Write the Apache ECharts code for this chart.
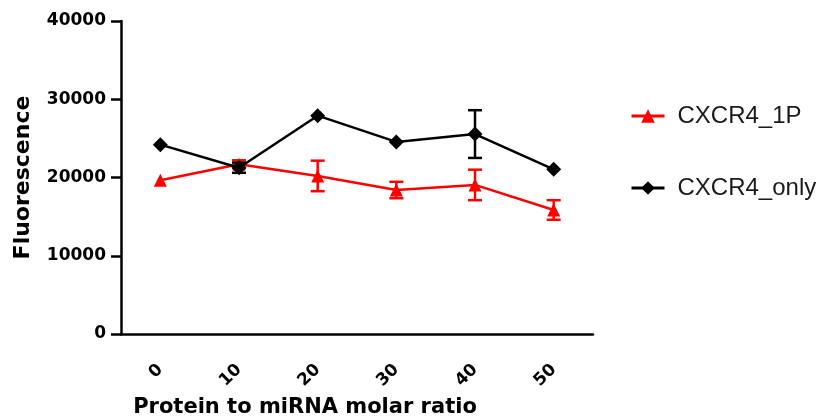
<!DOCTYPE html>
<html>
<head>
    <meta charset="utf-8">
    <script src="https://cdnjs.cloudflare.com/ajax/libs/echarts/6.0.0/echarts.min.js"></script>
</head>
<body style="margin:0;background:#fff;">
<div id="chart" style="width: 825px; height: 418px;"></div>
<script type="text/javascript">
    // Data
    var ratios = ['0', '10', '20', '30', '40', '50'];
    var yTicks = [0, 10000, 20000, 30000, 40000];

    var cxcr4_1P = [19650, 21700, 20200, 18400, 19050, 15850];
    var cxcr4_1P_err = [0, 500, 1950, 1050, 1950, 1250];

    var cxcr4_only = [24200, 21250, 27900, 24550, 25550, 21050];
    var cxcr4_only_err = [0, 650, 0, 0, 3050, 0];

    function errData(vals, errs) {
        var out = [];
        vals.forEach(function (v, i) {
            if (errs[i] > 0) out.push([i, v - errs[i], v + errs[i]]);
        });
        return out;
    }

    function errRenderer(color) {
        return function (params, api) {
            var top = api.coord([api.value(0), api.value(2)]);
            var bot = api.coord([api.value(0), api.value(1)]);
            var hw = 7;
            var style = { stroke: color, lineWidth: 2.5 };
            return {
                type: 'group',
                children: [
                    { type: 'line', shape: { x1: top[0], y1: top[1], x2: bot[0], y2: bot[1] }, style: style },
                    { type: 'line', shape: { x1: top[0] - hw, y1: top[1], x2: top[0] + hw, y2: top[1] }, style: style },
                    { type: 'line', shape: { x1: bot[0] - hw, y1: bot[1], x2: bot[0] + hw, y2: bot[1] }, style: style }
                ]
            };
        };
    }

    var boldFont = 'DejaVu Sans';
    var chart = echarts.init(document.getElementById('chart'));
    var option = {
        animation: false,
        backgroundColor: '#fff',
        grid: { left: 121, right: 232, top: 21, bottom: 84, containLabel: false, outerBoundsMode: 'none' },
        legend: {
            orient: 'vertical',
            left: 625,
            top: 99,
            itemWidth: 33,
            itemHeight: 17,
            itemGap: 48,
            data: ['CXCR4_1P', 'CXCR4_only'],
            lineStyle: { width: 3 },
            textStyle: { fontFamily: 'Liberation Sans', fontSize: 24, color: '#1a1a1a', padding: [0, 0, 0, 8] }
        },
        xAxis: {
            type: 'category',
            data: ratios,
            boundaryGap: true,
            name: 'Protein to miRNA molar ratio',
            nameLocation: 'middle',
            nameGap: 63,
            nameTextStyle: { fontFamily: boldFont, fontWeight: 'bold', fontSize: 21, color: '#000', padding: [0, 104, 0, 0] },
            axisLine: { lineStyle: { color: '#000', width: 2.5 } },
            axisTick: { alignWithLabel: true, length: 10, lineStyle: { color: '#000', width: 2.5 } },
            axisLabel: { rotate: 45, margin: 33, fontFamily: boldFont, fontWeight: 'bold', fontSize: 17, color: '#000' },
            splitLine: { show: false }
        },
        yAxis: {
            type: 'value',
            min: yTicks[0],
            max: yTicks[yTicks.length - 1],
            interval: 10000,
            name: 'Fluorescence',
            nameLocation: 'middle',
            nameGap: 87,
            nameTextStyle: { fontFamily: boldFont, fontWeight: 'bold', fontSize: 22, color: '#000' },
            axisLine: { show: true, lineStyle: { color: '#000', width: 2.5 } },
            axisTick: { show: true, length: 10, lineStyle: { color: '#000', width: 2.5 } },
            axisLabel: {
                margin: 15, fontFamily: boldFont, fontWeight: 'bold', fontSize: 17, color: '#000',
                formatter: function (v) { return String(v); }
            },
            splitLine: { show: false }
        },
        series: [
            {
                name: 'CXCR4_1P',
                type: 'line',
                data: cxcr4_1P,
                symbol: 'triangle',
                symbolSize: 13,
                color: '#ff0000',
                lineStyle: { color: '#ff0000', width: 2.5 },
                itemStyle: { color: '#ff0000' },
                z: 3
            },
            {
                name: 'CXCR4_1P_err',
                type: 'custom',
                data: errData(cxcr4_1P, cxcr4_1P_err),
                renderItem: errRenderer('#ff0000'),
                z: 3
            },
            {
                name: 'CXCR4_only',
                type: 'line',
                data: cxcr4_only,
                symbol: 'diamond',
                symbolSize: 15,
                color: '#000',
                lineStyle: { color: '#000', width: 2.5 },
                itemStyle: { color: '#000' },
                z: 4
            },
            {
                name: 'CXCR4_only_err',
                type: 'custom',
                data: errData(cxcr4_only, cxcr4_only_err),
                renderItem: errRenderer('#000'),
                z: 4
            }
        ]
    };
    chart.setOption(option);
</script>
</body>
</html>
